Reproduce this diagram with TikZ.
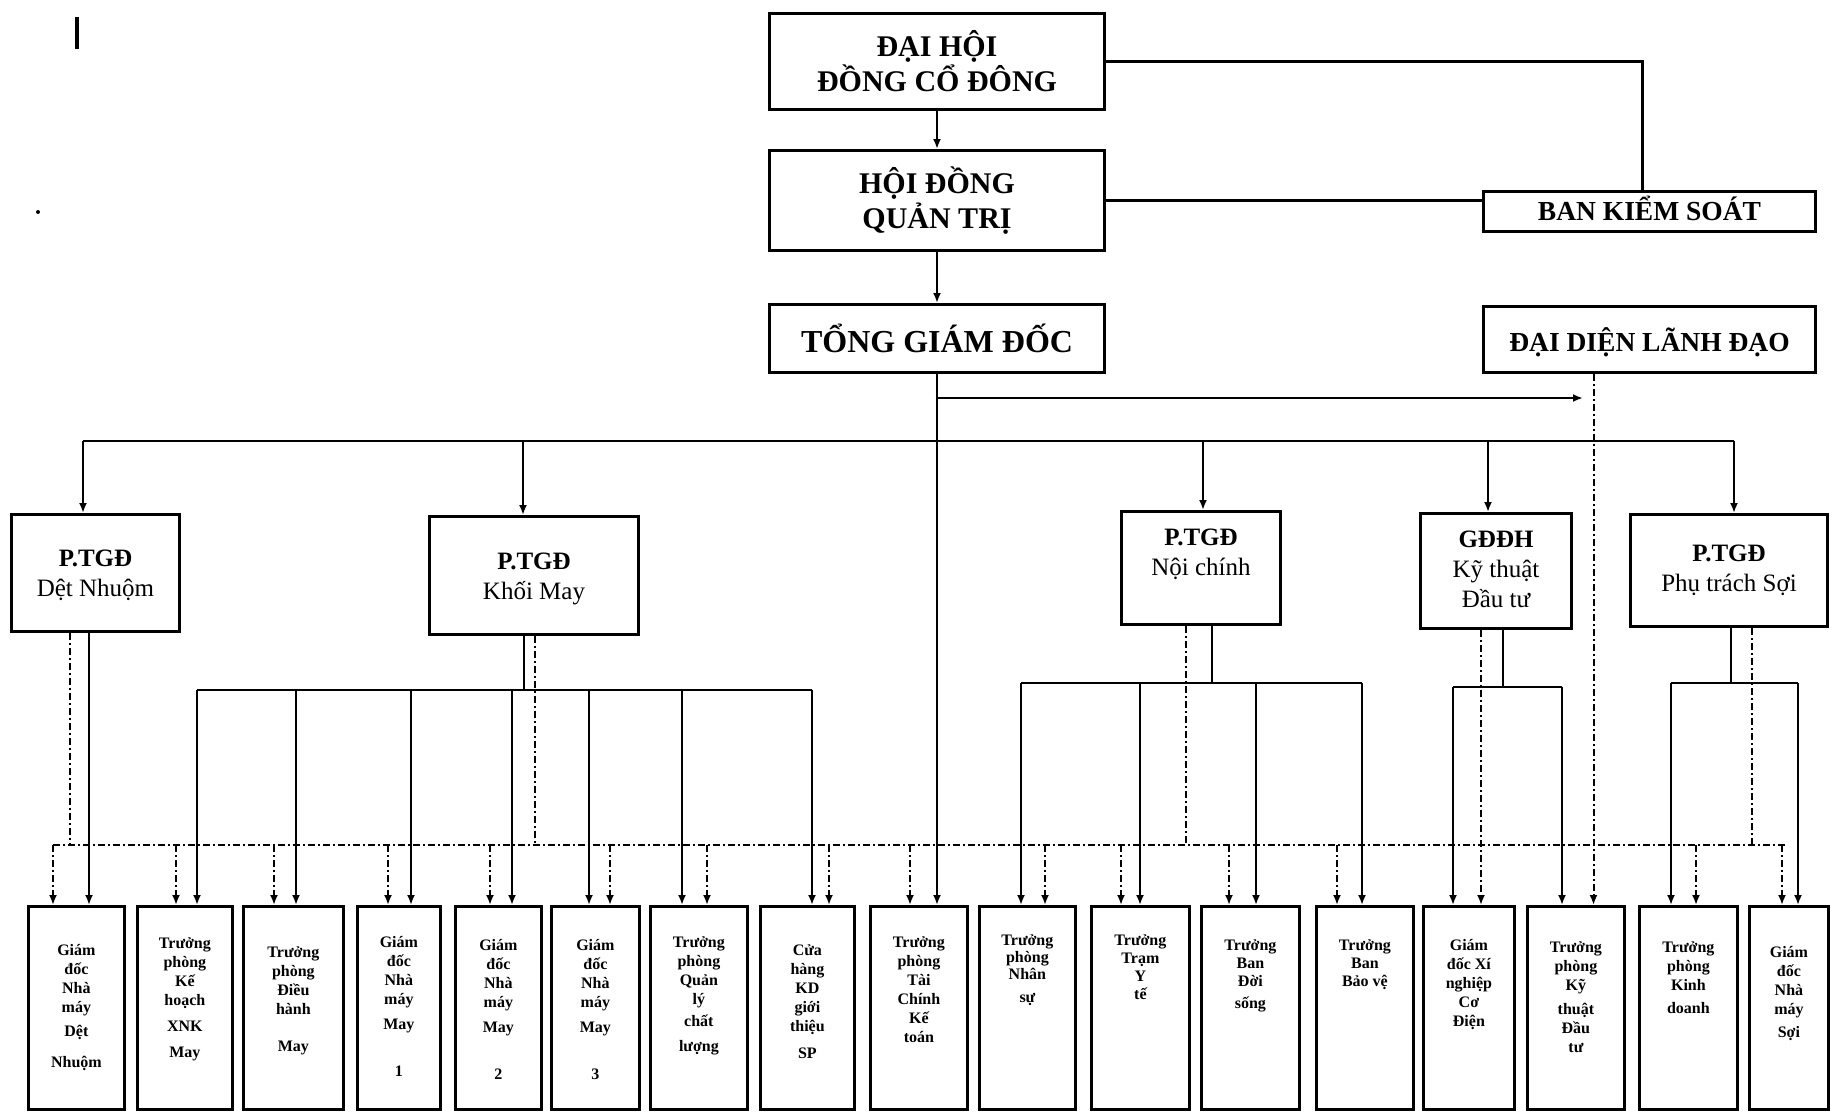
\documentclass[tikz,border=0pt]{standalone}
\usepackage{fontspec}
\setmainfont{Liberation Serif}
\usetikzlibrary{arrows.meta,calc}
\begin{document}
\begin{tikzpicture}[x=1pt,y=-1pt,
  topbox/.style={draw, line width=3pt, align=center, inner sep=0pt, font=\bfseries\fontsize{30}{35}\selectfont},
  sidebox/.style={draw, line width=3pt, inner sep=0pt},
  sidetxt/.style={align=center, inner sep=0pt, font=\bfseries\fontsize{27.5}{33}\selectfont},
  midbox/.style={draw, line width=3pt, inner sep=0pt},
  midtxt/.style={align=center, inner sep=0pt, font=\fontsize{25}{30}\selectfont},
  botbox/.style={draw, line width=2.8pt, inner sep=0pt, minimum height=203pt, anchor=north west},
  btxt/.style={align=center, inner sep=0pt, anchor=north, font=\bfseries\fontsize{16}{19}\selectfont},
  conn/.style={line width=2.4pt},
  arr/.style={conn, -{Latex[length=10pt,width=8pt]}},
  dd/.style={line width=2pt, dash pattern=on 7pt off 3pt on 2pt off 3pt},
  darr/.style={dd, -{Latex[length=10pt,width=8pt]}}
]
\useasboundingbox[fill=white] (0,0) rectangle (1830,1114);

% scan marks
\draw[line width=4pt] (77,17) -- (77,49);
\fill (38,212) circle (2pt);

% top level
\node[topbox, minimum width=335pt, minimum height=96pt, anchor=north west] (dh) at (768,12) {ĐẠI HỘI\\ĐỒNG CỔ ĐÔNG};
\node[topbox, minimum width=335pt, minimum height=100pt, anchor=north west] (hd) at (768,149) {HỘI ĐỒNG\\QUẢN TRỊ};
\node[topbox, font=\bfseries\fontsize{32}{36}\selectfont, minimum width=335pt, minimum height=68pt, anchor=north west] (tg) at (768,303) {TỔNG GIÁM ĐỐC};
\node[sidebox, minimum width=332pt, minimum height=40pt, anchor=north west] (bks) at (1482,190) {};
\node[sidebox, minimum width=332pt, minimum height=66pt, anchor=north west] (ddl) at (1482,305) {};
\node[sidetxt] (bkst) at ([yshift=3pt]bks.center) {BAN KIỂM SOÁT};
\node[sidetxt] (ddlt) at ([yshift=-3pt]ddl.center) {ĐẠI DIỆN LÃNH ĐẠO};

% middle level
\node[midbox, minimum width=168pt, minimum height=117pt, anchor=north west] (m1) at (10,513) {};
\node[midbox, minimum width=209pt, minimum height=118pt, anchor=north west] (m2) at (428,515) {};
\node[midbox, minimum width=159pt, minimum height=113pt, anchor=north west] (m3) at (1120,510) {};
\node[midbox, minimum width=151pt, minimum height=115pt, anchor=north west] (m4) at (1419,512) {};
\node[midbox, minimum width=197pt, minimum height=112pt, anchor=north west] (m5) at (1629,513) {};
\node[midtxt] (m1t) at ([yshift=-2pt]m1.center) {\textbf{P.TGĐ}\\Dệt Nhuộm};
\node[midtxt] (m2t) at ([yshift=-3pt]m2.center) {\textbf{P.TGĐ}\\Khối May};
\node[midtxt, anchor=north] (m3t) at ([yshift=-19pt]m3.north) {\textbf{P.TGĐ}\\Nội chính};
\node[midtxt, anchor=north] (m4t) at ([yshift=-19pt]m4.north) {\textbf{GĐĐH}\\Kỹ thuật\\Đầu tư};
\node[midtxt] (m5t) at ([yshift=0pt]m5.center) {\textbf{P.TGĐ}\\Phụ trách Sợi};

% bottom level
\node[botbox, minimum width=96pt] (b1) at (27,905) {};
\node[botbox, minimum width=95pt] (b2) at (136,905) {};
\node[botbox, minimum width=100pt] (b3) at (242,905) {};
\node[botbox, minimum width=83pt] (b4) at (356,905) {};
\node[botbox, minimum width=86pt] (b5) at (454,905) {};
\node[botbox, minimum width=88pt] (b6) at (550,905) {};
\node[botbox, minimum width=97pt] (b7) at (649,905) {};
\node[botbox, minimum width=94pt] (b8) at (759,905) {};
\node[botbox, minimum width=97pt] (b9) at (869,905) {};
\node[botbox, minimum width=96pt] (b10) at (978,905) {};
\node[botbox, minimum width=98pt] (b11) at (1090,905) {};
\node[botbox, minimum width=98pt] (b12) at (1200,905) {};
\node[botbox, minimum width=97pt] (b13) at (1315,905) {};
\node[botbox, minimum width=91pt] (b14) at (1422,905) {};
\node[botbox, minimum width=97pt] (b15) at (1526,905) {};
\node[botbox, minimum width=98pt] (b16) at (1638,905) {};
\node[botbox, minimum width=79pt] (b17) at (1748,905) {};

\node[btxt] (t1) at ([yshift=-39pt]b1.north) {Giám\\đốc\\Nhà\\máy\\[5pt]Dệt\\[12pt]Nhuộm};
\node[btxt] (t2) at ([yshift=-32pt]b2.north) {Trưởng\\phòng\\Kế\\hoạch\\[7pt]XNK\\[7pt]May};
\node[btxt] (t3) at ([yshift=-41pt]b3.north) {Trưởng\\phòng\\Điều\\hành\\[18pt]May};
\node[btxt] (t4) at ([yshift=-31pt]b4.north) {Giám\\đốc\\Nhà\\máy\\[6pt]May\\[28pt]1};
\node[btxt] (t5) at ([yshift=-34pt]b5.north) {Giám\\đốc\\Nhà\\máy\\[6pt]May\\[28pt]2};
\node[btxt] (t6) at ([yshift=-34pt]b6.north) {Giám\\đốc\\Nhà\\máy\\[6pt]May\\[28pt]3};
\node[btxt] (t7) at ([yshift=-31pt]b7.north) {Trưởng\\phòng\\Quản\\lý\\[3pt]chất\\[6pt]lượng};
\node[btxt] (t8) at ([yshift=-39pt]b8.north) {Cửa\\hàng\\KD\\giới\\thiệu\\[8pt]SP};
\node[btxt] (t9) at ([yshift=-31pt]b9.north) {Trưởng\\phòng\\Tài\\Chính\\Kế\\toán};
\node[btxt, font=\bfseries\fontsize{16}{17}\selectfont] (t10) at ([yshift=-29pt]b10.north) {Trưởng\\phòng\\Nhân\\[6pt]sự};
\node[btxt, font=\bfseries\fontsize{16}{18}\selectfont] (t11) at ([yshift=-29pt]b11.north) {Trưởng\\Trạm\\Y\\tế};
\node[btxt, font=\bfseries\fontsize{16}{18}\selectfont] (t12) at ([yshift=-34pt]b12.north) {Trưởng\\Ban\\Đời\\[4pt]sống};
\node[btxt, font=\bfseries\fontsize{16}{18}\selectfont] (t13) at ([yshift=-34pt]b13.north) {Trưởng\\Ban\\Bảo vệ};
\node[btxt] (t14) at ([yshift=-34pt]b14.north) {Giám\\đốc Xí\\nghiệp\\Cơ\\Điện};
\node[btxt] (t15) at ([yshift=-36pt]b15.north) {Trưởng\\phòng\\Kỹ\\[5pt]thuật\\Đầu\\tư};
\node[btxt] (t16) at ([yshift=-36pt]b16.north) {Trưởng\\phòng\\Kinh\\[4pt]doanh};
\node[btxt] (t17) at ([yshift=-41pt]b17.north) {Giám\\đốc\\Nhà\\máy\\[4pt]Sợi};

% top connectors
\draw[arr] (dh.south) -- (hd.north);
\draw[arr] (hd.south) -- (tg.north);
\draw[conn] (dh.east) -| ([xshift=-7pt]bks.north);
\draw[conn] (hd.east) -- (hd.east -| bks.west);
\draw[arr] (tg.south) -- (tg.south |- b9.north);
\coordinate (ta) at (935.5,398);
\coordinate (tb) at (1583,398);
\draw[arr] (ta) -- (tb);
\draw[darr] ([xshift=-56pt]ddl.south) -- ([xshift=-56pt]ddl.south |- b15.north);

% main bus
\coordinate (busL) at (83,441);
\coordinate (busR) at (1734,441);
\draw[conn] (busL) -- (busR);
\coordinate (j2) at (523,441);
\coordinate (j3) at (1203,441);
\coordinate (j4) at (1488,441);
\draw[arr] (busL) -- (busL |- m1.north);
\draw[arr] (j2) -- (j2 |- m2.north);
\draw[arr] (j3) -- (j3 |- m3.north);
\draw[arr] (j4) -- (j4 |- m4.north);
\draw[arr] (busR) -- (busR |- m5.north);

% dashed horizontal
\coordinate (dhL) at (53,845);
\coordinate (dhR) at (1786,845);
\draw[dd] (dhL) -- (dhR);

% Det Nhuom
\coordinate (e1) at (70,845);
\draw[dd] (e1 |- m1.south) -- (e1);
\coordinate (s1) at (89,640);
\draw[arr] (s1 |- m1.south) -- (s1 |- b1.north);

% Khoi May
\coordinate (g2) at (524,690);
\draw[conn] (g2 |- m2.south) -- (g2);
\coordinate (g2L) at (197,690);
\coordinate (g2R) at (812,690);
\draw[conn] (g2L) -- (g2R);
\coordinate (e2) at (535,845);
\draw[dd] (e2 |- m2.south) -- (e2);
\foreach \xx/\bb [count=\i] in {197/b2,296/b3,411/b4,512/b5,589/b6,682/b7,812/b8}{
  \coordinate (sk\i) at (\xx,690);
  \draw[arr] (sk\i) -- (sk\i |- \bb.north);
}

% Noi chinh
\coordinate (g3) at (1212,683);
\draw[conn] (g3 |- m3.south) -- (g3);
\coordinate (g3L) at (1021,683);
\coordinate (g3R) at (1362,683);
\draw[conn] (g3L) -- (g3R);
\coordinate (e3) at (1186,845);
\draw[dd] (e3 |- m3.south) -- (e3);
\foreach \xx/\bb [count=\i] in {1021/b10,1140/b11,1256/b12,1362/b13}{
  \coordinate (sn\i) at (\xx,683);
  \draw[arr] (sn\i) -- (sn\i |- \bb.north);
}

% GDDH
\coordinate (g4) at (1503,687);
\draw[conn] (g4 |- m4.south) -- (g4);
\coordinate (g4L) at (1453,687);
\coordinate (g4R) at (1562,687);
\draw[conn] (g4L) -- (g4R);
\draw[arr] (g4L) -- (g4L |- b14.north);
\draw[arr] (g4R) -- (g4R |- b15.north);
\coordinate (e4) at (1481,845);
\draw[darr] (e4 |- m4.south) -- (e4 |- b14.north);

% Phu trach Soi
\coordinate (g5) at (1731,683);
\draw[conn] (g5 |- m5.south) -- (g5);
\coordinate (g5L) at (1671,683);
\coordinate (g5R) at (1798,683);
\draw[conn] (g5L) -- (g5R);
\draw[arr] (g5L) -- (g5L |- b16.north);
\draw[arr] (g5R) -- (g5R |- b17.north);
\coordinate (e5) at (1752,845);
\draw[dd] (e5 |- m5.south) -- (e5);

% dashed drops
\foreach \xx/\bb [count=\i] in {53/b1,176/b2,274/b3,388/b4,490/b5,610/b6,707/b7,829/b8,910/b9,1045/b10,1121/b11,1229/b12,1337/b13,1696/b16,1782/b17}{
  \coordinate (dq\i) at (\xx,845);
  \draw[darr] (dq\i) -- (dq\i |- \bb.north);
}
\end{tikzpicture}
\end{document}
